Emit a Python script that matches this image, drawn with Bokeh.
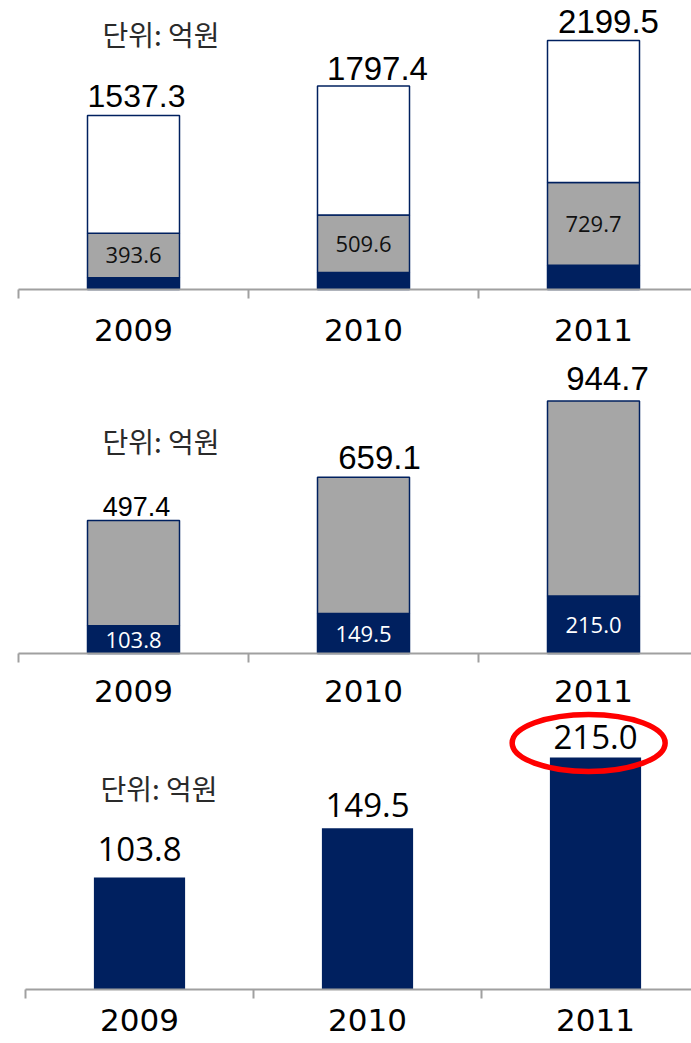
import numpy as np
from bokeh.plotting import figure
from bokeh.models import ColumnDataSource, Range1d, LinearAxis, FixedTicker, Label
from bokeh.layouts import column
from bokeh.embed import file_html
from bokeh.resources import INLINE
from bokeh.core.properties import value

# ---------------- data ----------------
years = ["2009", "2010", "2011"]
core = [103.8, 149.5, 215.0]        # navy segment
middle = [393.6, 509.6, 729.7]      # gray segment
total = [1537.3, 1797.4, 2199.5]    # full stacked total
unit_text = "단위: 억원"

# ---------------- styles ----------------
NAVY = "#00205F"
GRAY = "#A6A6A6"
AXIS = "#A0A0A0"
W = 691
YEAR_FONT = "DejaVu Sans"
TOP_FONT = "Liberation Sans"
IN_FONT = "Open Sans"
BASE_FIX = 0.38   # alphabetic-baseline correction, in em

n = len(years)
xc = [i + 0.5 for i in range(n)]
core_a = np.array(core)
mid_top = core_a + np.array(middle)


def make_fig(h, x0, cat_w, y_range):
    p = figure(width=W, height=h,
               x_range=Range1d(-x0 / cat_w, (W - x0) / cat_w),
               y_range=Range1d(*y_range),
               output_backend="svg", toolbar_location=None,
               min_border=0, x_axis_type=None, y_axis_type=None)
    p.outline_line_color = None
    p.background_fill_color = "white"
    p.border_fill_color = "white"
    return p


def add_axes(p, standoff):
    tick_axis = LinearAxis(
        fixed_location=0, ticker=FixedTicker(ticks=list(range(n + 1))), bounds=(0, n),
        axis_line_color=AXIS, axis_line_width=2,
        major_tick_line_color=AXIS, major_tick_line_width=2,
        major_tick_out=9, major_tick_in=0,
        minor_tick_line_color=None, major_label_text_color=None,
        major_label_overrides={i: "" for i in range(n + 1)})
    lab_axis = LinearAxis(
        fixed_location=0, ticker=FixedTicker(ticks=xc),
        major_label_overrides={x: y for x, y in zip(xc, years)},
        axis_line_color=None, major_tick_line_color=None, minor_tick_line_color=None,
        major_tick_in=0, major_tick_out=0, major_label_standoff=standoff,
        major_label_text_font=YEAR_FONT, major_label_text_font_size="31px",
        major_label_text_color="black")
    p.add_layout(tick_axis, "below")
    p.add_layout(lab_axis, "below")


def add_unit(p, x, y):
    p.add_layout(Label(x=x, y=y, x_units="screen", y_units="screen", text=unit_text,
                       text_font="Noto Sans CJK KR", text_font_size="28px",
                       text_color="#2a2a2a", text_baseline="middle"))


def top_src(ys, texts, sizes, dx, gaps):
    return ColumnDataSource(dict(
        x=xc, y=list(ys), t=texts, size=[f"{s}px" for s in sizes], dx=dx,
        dy=[-(g + BASE_FIX * s) for g, s in zip(gaps, sizes)]))


# ---------------- panel 1 ----------------
p1 = make_fig(355, 18, 230, (-583.1, 2553.3))
add_axes(p1, 29)
p1.vbar(x=xc, bottom=0, top=core, width=0.4, fill_color=NAVY, line_color=NAVY, line_width=1.5)
p1.vbar(x=xc, bottom=core, top=list(mid_top), width=0.4, fill_color=GRAY, line_color=NAVY, line_width=1.5)
p1.vbar(x=xc, bottom=list(mid_top), top=total, width=0.4, fill_color="white", line_color=NAVY, line_width=1.5)
s1t = top_src(total, [f"{v:.1f}" for v in total], [32, 33, 33], [3, 14, 15], [7, 5, 7])
p1.text(x="x", y="y", text="t", source=s1t, text_font=value(TOP_FONT), text_font_size="size",
        x_offset="dx", y_offset="dy", text_align="center", text_baseline="alphabetic", text_color="black")
s1m = ColumnDataSource(dict(x=xc, y=list((core_a + mid_top) / 2), t=[f"{v:.1f}" for v in middle]))
p1.text(x="x", y="y", text="t", source=s1m, text_font=value(IN_FONT), text_font_size="22px",
        text_align="center", text_baseline="middle", text_color="#111111")
add_unit(p1, 102, 322)

# ---------------- panel 2 ----------------
p2 = make_fig(353, 18, 230, (-205.7, 1114.5))
add_axes(p2, 27)
p2.vbar(x=xc, bottom=0, top=core, width=0.4, fill_color=NAVY, line_color=NAVY, line_width=1.5)
p2.vbar(x=xc, bottom=core, top=list(mid_top), width=0.4, fill_color=GRAY, line_color=NAVY, line_width=1.5)
s2t = top_src(mid_top, [f"{v:.1f}" for v in mid_top], [27, 33, 33], [3, 16, 14], [4, 7, 10])
p2.text(x="x", y="y", text="t", source=s2t, text_font=value(TOP_FONT), text_font_size="size",
        x_offset="dx", y_offset="dy", text_align="center", text_baseline="alphabetic", text_color="black")
s2c = ColumnDataSource(dict(x=xc, y=list(core_a / 2), t=[f"{v:.1f}" for v in core]))
p2.text(x="x", y="y", text="t", source=s2c, text_font=value(IN_FONT), text_font_size="22px",
        text_align="center", text_baseline="middle", text_color="white")
add_unit(p2, 102, 268)

# ---------------- panel 3 ----------------
p3 = make_fig(333, 25, 228, (-48.2, 260.4))
add_axes(p3, 20)
p3.vbar(x=xc, bottom=0, top=core, width=0.4, fill_color=NAVY, line_color=None)
s3 = top_src(core, [f"{v:.1f}" for v in core], [33, 33, 33], [0, 0, 0], [16, 11, 8])
p3.text(x="x", y="y", text="t", source=s3, text_font=value(IN_FONT), text_font_size="size",
        x_offset="dx", y_offset="dy", text_align="center", text_baseline="alphabetic", text_color="black")
# highlight ellipse around the latest value
p3.ellipse(x=[xc[-1] - 0.03], y=[core[-1] + 13.5], width=153, height=57,
           width_units="screen", height_units="screen",
           fill_color=None, line_color="#FF0000", line_width=5.5)
add_unit(p3, 100, 254)

layout = column(p1, p2, p3, spacing=0)
open("out.html", "w").write(file_html(layout, INLINE))
